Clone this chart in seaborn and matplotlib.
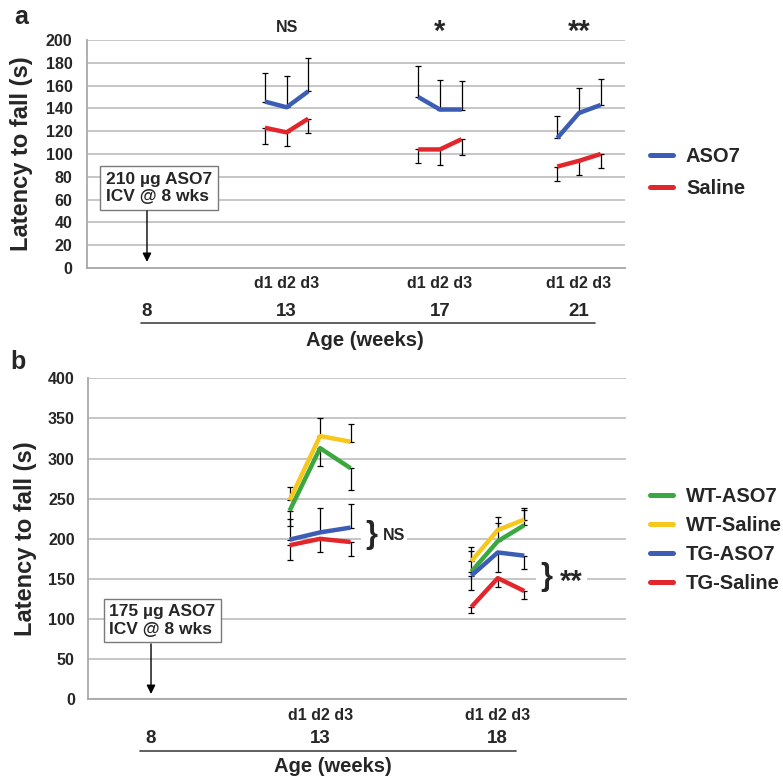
import numpy as np
import pandas as pd
import seaborn as sns
import matplotlib.pyplot as plt
from matplotlib.lines import Line2D

# ---- panel a: 210 ug ASO7 vs saline, rotarod on d1-d3 ----
weeks_a = [13, 17, 21]
aso7_a = [146, 141, 155, 150, 139, 139, 114, 136, 143]
aso7_a_tip = [171, 168, 184, 177, 165, 164, 133, 158, 166]   # end of error bar
saline_a = [123, 119, 131, 104, 104, 113, 89, 94, 100]
saline_a_tip = [109, 107, 118, 92, 90, 99, 76, 82, 88]
stars_a = ['NS', '*', '**']

# ---- panel b: WT / TG mice, 175 ug ASO7 vs saline ----
weeks_b = [13, 18]
wt_aso7 = [235, 313, 288, 159, 197, 217]
wt_aso7_tip = [216, 291, 261, 185, 220, 236]
wt_saline = [248, 328, 321, 172, 211, 224]
wt_saline_tip = [265, 350, 343, 190, 227, 239]
tg_aso7 = [199, 208, 214, 154, 183, 179]
tg_aso7_tip = [225, 239, 243, 136, 159, 162]
tg_saline = [192, 200, 196, 115, 151, 135]
tg_saline_tip = [174, 183, 179, 107, 140, 125]

BLUE, RED, GREEN, YELLOW = '#3c5db5', '#e2262b', '#3ba73f', '#f6c81d'

# layout of the x axis (0-100 across the plot area)
centre_a = {8: 11.15, 13: 37.1, 17: 65.6, 21: 91.45}
step_a = {13: 4.03, 17: 4.03, 21: 4.03}
centre_b = {8: 11.7, 13: 43.1, 18: 76.1}
step_b = {13: 5.66, 18: 4.92}


def long_df(series, weeks, centre, step):
    rows = []
    for name, (vals, tips) in series.items():
        for i, (v, t) in enumerate(zip(vals, tips)):
            rows.append(dict(series=name, week=weeks[i // 3], day=i % 3, latency=v, tip=t))
    df = pd.DataFrame(rows)
    df['x'] = df['week'].map(centre) + (df['day'] - 1) * df['week'].map(step)
    return df


sns.set_theme(style='white')
plt.rcParams['font.family'] = ['Liberation Sans', 'DejaVu Sans']
plt.rcParams['font.weight'] = 'bold'

fig = plt.figure(figsize=(7.83, 7.77), dpi=100)
axa = fig.add_axes([0.1111, 0.6551, 0.6871, 0.2934])
axb = fig.add_axes([0.1124, 0.1000, 0.6877, 0.4131])


def draw(ax, df, palette, order):
    sns.lineplot(data=df, x='x', y='latency', hue='series', hue_order=order, units='week',
                 estimator=None, sort=False, palette=palette, lw=3.2, legend=False, ax=ax,
                 zorder=3, solid_capstyle='butt')
    lo = np.clip(df['latency'] - df['tip'], 0, None)
    hi = np.clip(df['tip'] - df['latency'], 0, None)
    ax.errorbar(df['x'], df['latency'], yerr=[lo, hi], fmt='none', ecolor='black',
                elinewidth=0.9, capsize=2.3, capthick=0.9, zorder=2)


def style(ax, ymax, ystep, pad):
    ax.set_xlim(0, 100)
    ax.set_ylim(0, ymax)
    ax.set_yticks(np.arange(0, ymax + 1, ystep))
    ax.set_xticks([])
    ax.set_xlabel('')
    ax.set_ylabel('Latency to fall (s)', fontsize=17, fontweight='bold')
    ax.grid(axis='y', color='#c2c2c2', lw=1.3, zorder=0)
    ax.set_axisbelow(True)
    for s in ['top', 'right']:
        ax.spines[s].set_visible(False)
    for s in ['left', 'bottom']:
        ax.spines[s].set_color('#a8a8a8')
        ax.spines[s].set_linewidth(1.3)
    ax.tick_params(axis='y', which='major', length=5, width=1.3, color='#b0b0b0',
                   pad=pad, labelsize=11.5)
    for t in ax.get_yticklabels():
        t.set_fontweight('bold')


# ---------------- panel a ----------------
df_a = long_df({'ASO7': (aso7_a, aso7_a_tip), 'Saline': (saline_a, saline_a_tip)},
               weeks_a, centre_a, step_a)
draw(axa, df_a, {'ASO7': BLUE, 'Saline': RED}, ['ASO7', 'Saline'])
style(axa, 200, 20, 5.5)
axa.yaxis.set_label_coords(-0.1, 0.5)

xt = axa.get_xaxis_transform()
for w, s in zip(weeks_a, stars_a):
    if s == 'NS':
        axa.text(centre_a[w], 1.057, s, transform=xt, ha='center', va='center', fontsize=11.5)
    else:
        axa.text(centre_a[w], 1.035, s, transform=xt, ha='center', va='center', fontsize=21)
    axa.text(centre_a[w], -0.070, 'd1 d2 d3', transform=xt, ha='center', va='center',
             fontsize=11.5, clip_on=False)
for w in [8] + weeks_a:
    axa.text(centre_a[w], -0.189, str(w), transform=xt, ha='center', va='center',
             fontsize=13.5, clip_on=False)
axa.plot([10.0, 94.4], [-0.241, -0.241], transform=xt, color='#444444', lw=1.2, clip_on=False)
axa.text(51.7, -0.316, 'Age (weeks)', transform=xt, ha='center', va='center', fontsize=14.5)

axa.text(13.4, 70.2, '210 µg ASO7\nICV @ 8 wks', ha='center', va='center', multialignment='left',
         fontsize=12.5, zorder=4,
         bbox=dict(boxstyle='square,pad=0.32', fc='white', ec='#7a7a7a', lw=1))
axa.annotate('', xy=(centre_a[8], 5.3), xytext=(centre_a[8], 50),
             arrowprops=dict(arrowstyle='-|>', color='black', lw=1, mutation_scale=13,
                             shrinkA=0, shrinkB=0), zorder=4)

hand_a = [Line2D([], [], color=c, lw=3.6) for c in [BLUE, RED]]
axa.legend(hand_a, ['ASO7', 'Saline'], loc='center left', bbox_to_anchor=(1.046, 0.418),
           frameon=False, fontsize=14.5, handlelength=1.15, handletextpad=0.65,
           labelspacing=0.62, borderaxespad=0, borderpad=0)

# ---------------- panel b ----------------
order_b = ['WT-ASO7', 'WT-Saline', 'TG-ASO7', 'TG-Saline']
pal_b = dict(zip(order_b, [GREEN, YELLOW, BLUE, RED]))
df_b = long_df({'WT-ASO7': (wt_aso7, wt_aso7_tip), 'WT-Saline': (wt_saline, wt_saline_tip),
                'TG-ASO7': (tg_aso7, tg_aso7_tip), 'TG-Saline': (tg_saline, tg_saline_tip)},
               weeks_b, centre_b, step_b)
draw(axb, df_b, pal_b, order_b)
style(axb, 400, 50, 4.5)
axb.yaxis.set_label_coords(-0.095, 0.5)

xt = axb.get_xaxis_transform()
for w in weeks_b:
    axb.text(centre_b[w], -0.052, 'd1 d2 d3', transform=xt, ha='center', va='center',
             fontsize=11.5, clip_on=False)
for w in [8] + weeks_b:
    axb.text(centre_b[w], -0.122, str(w), transform=xt, ha='center', va='center',
             fontsize=13.5, clip_on=False)
axb.plot([9.65, 79.4], [-0.161, -0.161], transform=xt, color='#444444', lw=1.2, clip_on=False)
axb.text(45.45, -0.208, 'Age (weeks)', transform=xt, ha='center', va='center', fontsize=14.5)

white = dict(boxstyle='square,pad=0.15', fc='white', ec='none')
axb.text(52.7, 204.7, '}', ha='center', va='center', fontsize=22, fontweight='bold',
         bbox=white, zorder=4)
axb.text(54.7, 204.7, 'NS', ha='left', va='center', fontsize=11.5, bbox=white, zorder=4)
axb.text(85.2, 152.4, '}', ha='center', va='center', fontsize=22, fontweight='bold',
         bbox=white, zorder=4)
axb.text(87.6, 146, '**', ha='left', va='center', fontsize=21, bbox=white, zorder=4)

axb.text(13.8, 98.2, '175 µg ASO7\nICV @ 8 wks', ha='center', va='center', multialignment='left',
         fontsize=12.5, zorder=4,
         bbox=dict(boxstyle='square,pad=0.32', fc='white', ec='#7a7a7a', lw=1))
axb.annotate('', xy=(centre_b[8], 6.6), xytext=(centre_b[8], 69),
             arrowprops=dict(arrowstyle='-|>', color='black', lw=1, mutation_scale=13,
                             shrinkA=0, shrinkB=0), zorder=4)

hand_b = [Line2D([], [], color=pal_b[k], lw=3.6) for k in order_b]
axb.legend(hand_b, order_b, loc='center left', bbox_to_anchor=(1.043, 0.496),
           frameon=False, fontsize=14.5, handlelength=1.15, handletextpad=0.65,
           labelspacing=0.5, borderaxespad=0, borderpad=0)

fig.text(21 / 783, 1 - 17 / 777, 'a', ha='center', va='center', fontsize=18)
fig.text(18 / 783, 1 - 362 / 777, 'b', ha='center', va='center', fontsize=18)

fig.savefig('out.png', dpi=100)
